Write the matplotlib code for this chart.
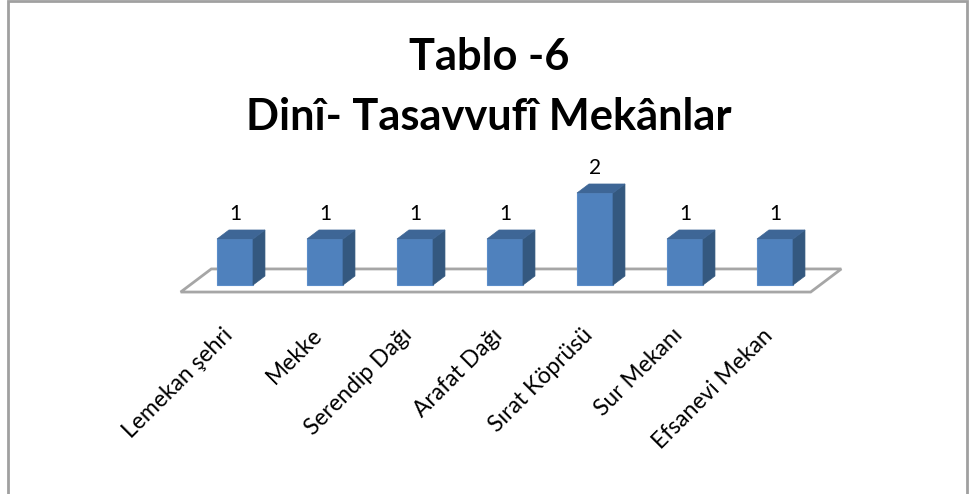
import numpy as np
import matplotlib
matplotlib.use('Agg')
import matplotlib.pyplot as plt
from matplotlib.patches import Polygon, Rectangle

plt.rcParams['font.family'] = ['Lato', 'DejaVu Sans']

categories = ['Lemekan şehri', 'Mekke', 'Serendip Dağı', 'Arafat Dağı',
              'Sırat Köprüsü', 'Sur Mekanı', 'Efsanevi Mekan']
values = [1, 1, 1, 1, 2, 1, 1]
title_lines = ['Tablo -6', 'Dinî- Tasavvufî Mekânlar']

front_col = '#4f81bd'
side_col = '#34587f'
top_col = '#3e6696'

fig = plt.figure(figsize=(9.7, 4.94), dpi=100)
ax = fig.add_axes([0, 0, 1, 1])
# one x unit = 90 px, one y unit = 46 px
ax.set_xlim(-235 / 90, (970 - 235) / 90)
ax.set_ylim((285 - 494) / 46, 285 / 46)
ax.axis('off')

w = 0.4              # bar front width
ddx, ddy = 0.133, 0.196   # depth offset

x = np.arange(len(values))

# floor
n = len(values)
t0, t1 = -0.78, 1.78
floor = [(-0.5 + t0 * ddx, t0 * ddy), (n - 0.5 + t0 * ddx, t0 * ddy),
         (n - 0.5 + t1 * ddx, t1 * ddy), (-0.5 + t1 * ddx, t1 * ddy)]
ax.add_patch(Polygon(floor, closed=True, facecolor='white', edgecolor='#a6a6a6', lw=2, zorder=1))

ax.bar(x, values, width=w, color=front_col, edgecolor='#5b8dc9', lw=0.8, zorder=3)
for xi, v in zip(x, values):
    l, r = xi - w / 2, xi + w / 2
    side = [(r, 0), (r + ddx, ddy), (r + ddx, v + ddy), (r, v)]
    top = [(l, v), (r, v), (r + ddx, v + ddy), (l + ddx, v + ddy)]
    ax.add_patch(Polygon(side, closed=True, facecolor=side_col, edgecolor=side_col, lw=0.5, zorder=3))
    ax.add_patch(Polygon(top, closed=True, facecolor=top_col, edgecolor=top_col, lw=0.5, zorder=3))
    ax.text(xi, v + ddy + 0.14, str(v), ha='center', va='bottom', fontsize=15, color='black')

for xi, lab in zip(x, categories):
    ax.text(xi - 0.15, -0.86, lab, rotation=45, rotation_mode='anchor',
            ha='right', va='top', fontsize=16.5, color='black')

t1_ = fig.text(0.504, 1 - 70 / 494, title_lines[0], ha='center', va='baseline',
               fontsize=31, fontweight='bold')
t2_ = fig.text(0.504, 1 - 130 / 494, title_lines[1], ha='center', va='baseline',
               fontsize=31, fontweight='bold')
# fit second title line to about 485 px wide
rend = fig.canvas.get_renderer()
wpx = t2_.get_window_extent(rend).width
fs = 31 * 485 / wpx
t1_.set_fontsize(fs)
t2_.set_fontsize(fs)

fig.patches.append(Rectangle((8.5 / 970, -0.1), 959 / 970, 1.1 - 1.5 / 494,
                             transform=fig.transFigure, fill=False,
                             edgecolor='#a0a0a0', lw=2))

fig.savefig('out.png', dpi=100)
